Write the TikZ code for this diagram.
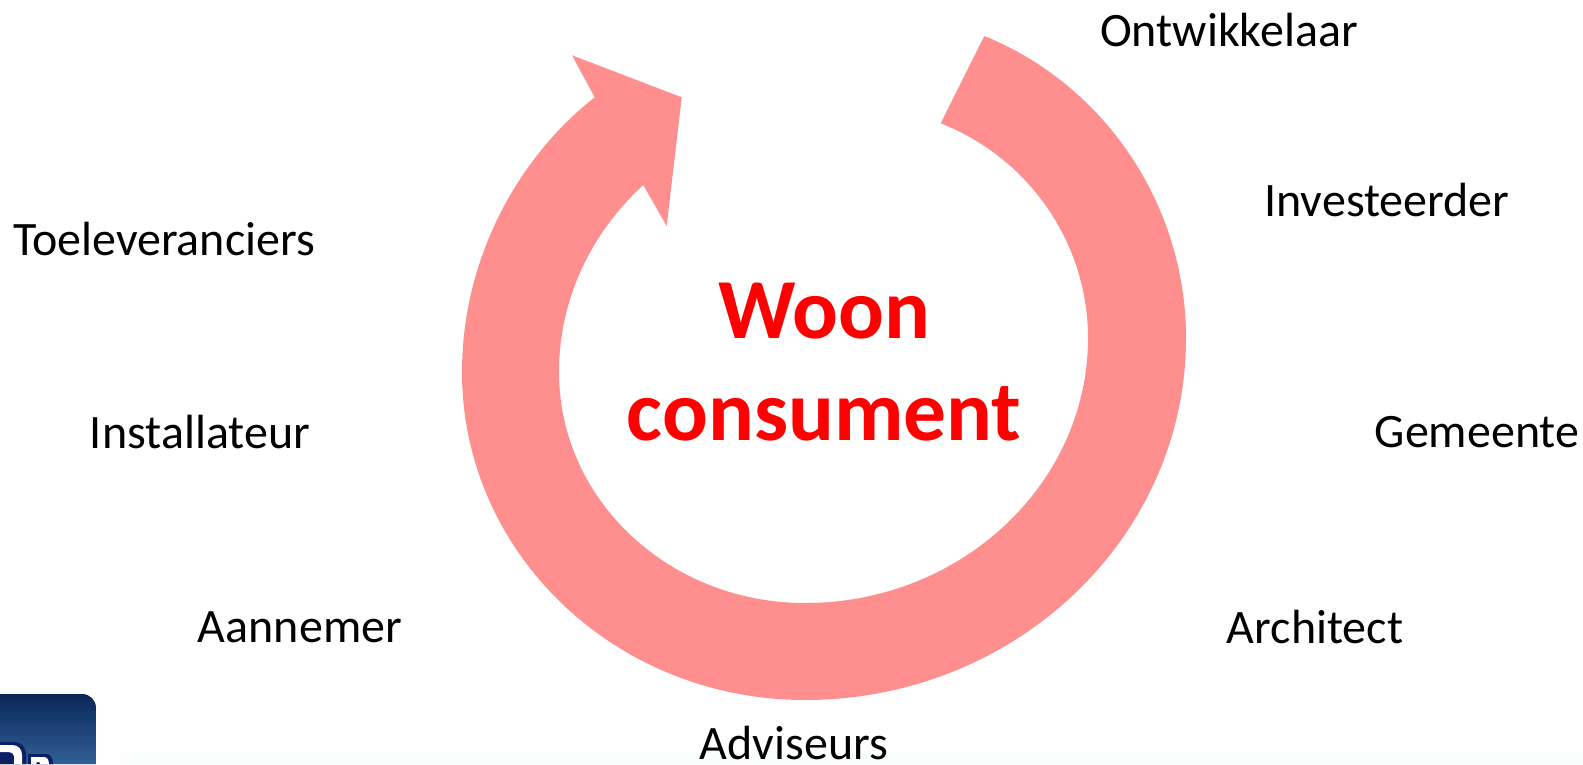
\documentclass[tikz,border=0pt]{standalone}
\usepackage{fontspec}
\setmainfont{Carlito}
\definecolor{ring}{HTML}{FF8F8F}
\definecolor{logotop}{HTML}{0B2656}
\definecolor{logobot}{HTML}{2F6098}
\definecolor{logoglyph}{HTML}{0A1F66}
\definecolor{stripe}{HTML}{FBFEFE}
\tikzset{
  actor/.style={inner sep=0pt,font=\fontsize{48}{48}\selectfont,text=black},
  title/.style={inner sep=0pt,align=center,text=red,font=\fontsize{85.5}{102}\selectfont\bfseries},
  glyphedge/.style={fill=logoglyph},
  glyphface/.style={fill=white},
}
\begin{document}
\begin{tikzpicture}[x=1pt,y=-1pt]
\useasboundingbox (0,0) rectangle (1583,764);
\fill[white] (0,0) rectangle (1583,764);
\fill[stripe] (120,753) rectangle (1583,764);
% ring arrow
\fill[ring] (984.3,36)
  .. controls (1105,85) and (1186,205) .. (1186,338)
  .. controls (1186,538) and (1015,700) .. (805,700)
  .. controls (615,700) and (462,553) .. (462,372)
  .. controls (462,262) and (515,160) .. (594.7,97.3)
  -- (572,55.3) -- (681.7,97.3) -- (666.7,226) -- (643.3,185)
  .. controls (592,232) and (559,298) .. (559,372)
  .. controls (559,500) and (669,603) .. (805,603)
  .. controls (961,603) and (1088,484) .. (1088,338)
  .. controls (1088,243) and (1029,158) .. (940.7,123.3)
  -- cycle;
% logo
\begin{scope}
\clip (0,694) -- (82,694) .. controls (90,694) and (96,700) .. (96,708) -- (96,764) -- (0,764) -- cycle;
\shade[top color=logotop,bottom color=logobot] (0,694) rectangle (96,764);
\path[glyphedge] (0,742) -- (14,742) .. controls (21,742) and (26,747) .. (26,754) -- (26,764) -- (0,764) -- cycle;
\path[glyphface] (0,745) -- (12,745) .. controls (18,745) and (22,749) .. (22,755) -- (22,764) -- (14,764) -- (14,756) .. controls (14,753) and (11,752) .. (8,752) -- (0,752) -- cycle;
\path[glyphedge] (28,764) -- (28,754) -- (46,754) .. controls (50,754) and (53,757) .. (53,764) -- cycle;
\path[glyphface] (31,764) -- (31,757) -- (44,757) .. controls (47,757) and (49,760) .. (49,764) -- (40,764) .. controls (40,761) and (37,761) .. (36,764) -- cycle;
\end{scope}
\node[title] (center) at (824,362) {Woon\\consument};
\node[actor] (ontw) at (1229,30) {Ontwikkelaar};
\node[actor] (inv) at (1387,200) {Investeerder};
\node[actor] (gem) at (1477,432) {Gemeente};
\node[actor] (arch) at (1315,627) {Architect};
\node[actor] (adv) at (794,743) {Adviseurs};
\node[actor] (aan) at (300,627) {Aannemer};
\node[actor] (inst) at (200,432) {Installateur};
\node[actor] (toe) at (164,239) {Toeleveranciers};
\end{tikzpicture}
\end{document}
